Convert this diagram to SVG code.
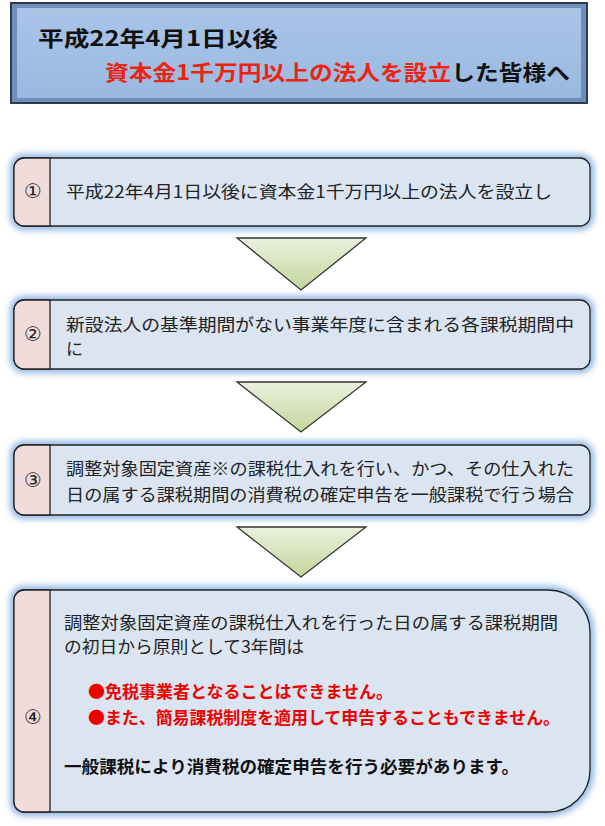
<svg xmlns="http://www.w3.org/2000/svg" width="605" height="826" viewBox="0 0 605 826">
<defs>
<style>
.t{font-family:"Noto Sans CJK JP","Noto Sans",sans-serif;font-size:17px;fill:#222}
.n{font-family:"DejaVu Sans",sans-serif;font-size:20px;fill:#222}
.b{font-family:"Noto Sans CJK JP","Noto Sans",sans-serif;font-weight:bold}
.box{fill:#dbe5f1;stroke:#222;stroke-width:1.3}
.tab{fill:#f2dcdb;stroke:#222;stroke-width:1.3}
.glow{fill:none;stroke:#8db3e2;stroke-width:8;filter:url(#bl)}
.tri{fill:url(#tg);stroke:#333;stroke-width:1.3}
.red{fill:#e00}
</style>
<filter id="bl" x="-10%" y="-30%" width="120%" height="160%"><feGaussianBlur stdDeviation="3"/></filter>
<linearGradient id="tg" x1="0" y1="0" x2="0" y2="1"><stop offset="0" stop-color="#ebf1de"/><stop offset="1" stop-color="#c3d69b"/></linearGradient>
<linearGradient id="hg" x1="0" y1="0" x2="0" y2="1"><stop offset="0" stop-color="#a9c4e7"/><stop offset="1" stop-color="#9ab9e0"/></linearGradient>
</defs>
<g id="title">
<rect x="10" y="2" width="578" height="102" fill="#2f3b4a"/>
<rect x="12" y="4" width="574" height="98" fill="#6f8fbb"/>
<rect x="17" y="8" width="564" height="90" fill="url(#hg)"/>
<text class="b" x="38" y="46" font-size="21" fill="#111" textLength="240" lengthAdjust="spacingAndGlyphs">平成22年4月1日以後</text>
<text class="b" x="105" y="80" font-size="21" textLength="465" lengthAdjust="spacingAndGlyphs"><tspan fill="#e21">資本金1千万円以上の法人を設立</tspan><tspan fill="#111">した皆様へ</tspan></text>
</g>
<g id="connectors">
<polygon class="tri" points="237,238 366,238 301,290"/>
<polygon class="tri" points="237,382 366,382 301,432"/>
<polygon class="tri" points="237,527 366,527 301,577"/>
</g>
<g id="n1">
<rect class="glow" x="14" y="158" width="576" height="68" rx="10"/>
<rect class="box" x="14" y="158" width="576" height="68" rx="10"/>
<path class="tab" d="M50,158 H24 A10,10 0 0 0 14,168 V216 A10,10 0 0 0 24,226 H50 Z"/>
<text class="n" x="33" y="198" text-anchor="middle">①</text>
<text class="t" x="66" y="198" textLength="486" lengthAdjust="spacingAndGlyphs">平成22年4月1日以後に資本金1千万円以上の法人を設立し</text>
</g>
<g id="n2">
<rect class="glow" x="14" y="300" width="576" height="69" rx="10"/>
<rect class="box" x="14" y="300" width="576" height="69" rx="10"/>
<path class="tab" d="M50,300 H24 A10,10 0 0 0 14,310 V359 A10,10 0 0 0 24,369 H50 Z"/>
<text class="n" x="33" y="341" text-anchor="middle">②</text>
<text class="t" x="66" y="331" textLength="508" lengthAdjust="spacingAndGlyphs">新設法人の基準期間がない事業年度に含まれる各課税期間中</text>
<text class="t" x="66" y="355">に</text>
</g>
<g id="n3">
<rect class="glow" x="14" y="445" width="576" height="70" rx="10"/>
<rect class="box" x="14" y="445" width="576" height="70" rx="10"/>
<path class="tab" d="M50,445 H24 A10,10 0 0 0 14,455 V505 A10,10 0 0 0 24,515 H50 Z"/>
<text class="n" x="33" y="487" text-anchor="middle">③</text>
<text class="t" x="66" y="475" textLength="508" lengthAdjust="spacingAndGlyphs">調整対象固定資産※の課税仕入れを行い、かつ、その仕入れた</text>
<text class="t" x="66" y="501" textLength="508" lengthAdjust="spacingAndGlyphs">日の属する課税期間の消費税の確定申告を一般課税で行う場合</text>
</g>
<g id="n4">
<path class="glow" d="M24,590 H548 A42,42 0 0 1 590,632 V770 A42,42 0 0 1 548,812 H24 A10,10 0 0 1 14,802 V600 A10,10 0 0 1 24,590 Z"/>
<path class="box" d="M24,590 H548 A42,42 0 0 1 590,632 V770 A42,42 0 0 1 548,812 H24 A10,10 0 0 1 14,802 V600 A10,10 0 0 1 24,590 Z"/>
<path class="tab" d="M50,590 H24 A10,10 0 0 0 14,600 V802 A10,10 0 0 0 24,812 H50 Z"/>
<text class="n" x="33" y="724" text-anchor="middle">④</text>
<text class="t" x="64" y="629" textLength="494" lengthAdjust="spacingAndGlyphs">調整対象固定資産の課税仕入れを行った日の属する課税期間</text>
<text class="t" x="64" y="653" textLength="240" lengthAdjust="spacingAndGlyphs">の初日から原則として3年間は</text>
<text class="b red" x="88" y="698" font-size="17" textLength="305" lengthAdjust="spacingAndGlyphs">●免税事業者となることはできません。</text>
<text class="b red" x="88" y="724" font-size="17" textLength="472" lengthAdjust="spacingAndGlyphs">●また、簡易課税制度を適用して申告することもできません。</text>
<text class="b" x="64" y="773" font-size="17" fill="#111" textLength="455" lengthAdjust="spacingAndGlyphs">一般課税により消費税の確定申告を行う必要があります。</text>
</g>
</svg>
